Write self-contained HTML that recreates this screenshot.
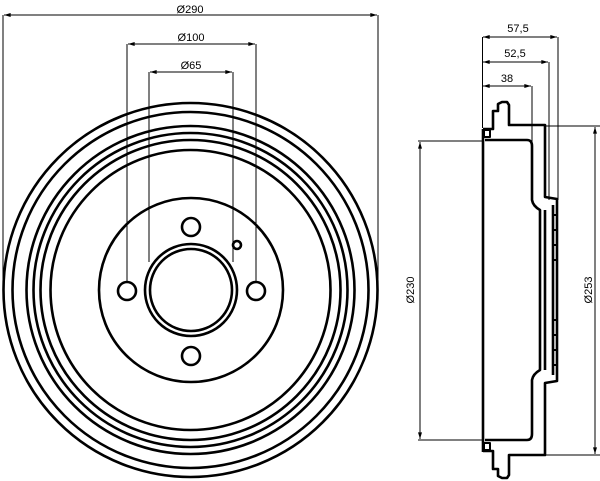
<!DOCTYPE html>
<html><head><meta charset="utf-8"><style>
html,body{margin:0;padding:0;background:#fff;}
svg{display:block;}
text{font-family:"Liberation Sans",sans-serif;font-size:11px;fill:#000;}
</style></head><body>
<svg width="600" height="481" viewBox="0 0 600 481" xmlns="http://www.w3.org/2000/svg">
<defs>
<marker id="a" viewBox="0 0 10 6" refX="10" refY="3" markerWidth="8" markerHeight="4" orient="auto-start-reverse" markerUnits="userSpaceOnUse"><path d="M0,0L10,3L0,6z" fill="#000"/></marker>
</defs>
<g fill="none" stroke="#000">
<!-- front view circles -->
<g stroke-width="2.6">
<circle cx="190.5" cy="290" r="187"/>
<circle cx="190.5" cy="290" r="178"/>
<circle cx="190.5" cy="290" r="164"/>
<circle cx="190.5" cy="290" r="157"/>
<circle cx="190.5" cy="290" r="150"/>
<circle cx="190.5" cy="290" r="140"/>
<circle cx="191" cy="290" r="92"/>
<circle cx="191" cy="290" r="46"/>
<circle cx="191" cy="290" r="41"/>
<circle cx="127" cy="291" r="9"/>
<circle cx="256" cy="291" r="9"/>
<circle cx="191" cy="227" r="9"/>
<circle cx="191" cy="356" r="9"/>
<circle cx="237" cy="245" r="4"/>
</g>
<!-- front dims -->
<g stroke-width="1">
<line x1="3" y1="15" x2="3" y2="280"/>
<line x1="378" y1="15" x2="378" y2="280"/>
<line x1="4" y1="15" x2="377" y2="15" marker-start="url(#a)" marker-end="url(#a)"/>
<line x1="127" y1="44" x2="127" y2="282"/>
<line x1="256" y1="44" x2="256" y2="282"/>
<line x1="128" y1="44" x2="255" y2="44" marker-start="url(#a)" marker-end="url(#a)"/>
<line x1="149" y1="72" x2="149" y2="262"/>
<line x1="233" y1="72" x2="233" y2="262"/>
<line x1="150" y1="72" x2="232" y2="72" marker-start="url(#a)" marker-end="url(#a)"/>
</g>
<!-- side view dims -->
<g stroke-width="1">
<line x1="482.5" y1="37" x2="482.5" y2="128"/>
<line x1="558" y1="37" x2="558" y2="200"/>
<line x1="549" y1="62" x2="549" y2="200"/>
<line x1="532" y1="86" x2="532" y2="142"/>
<line x1="483" y1="37" x2="557" y2="37" marker-start="url(#a)" marker-end="url(#a)"/>
<line x1="483" y1="62" x2="548" y2="62" marker-start="url(#a)" marker-end="url(#a)"/>
<line x1="483" y1="86" x2="531" y2="86" marker-start="url(#a)" marker-end="url(#a)"/>
<line x1="418" y1="141" x2="484" y2="141"/>
<line x1="418" y1="440" x2="484" y2="440"/>
<line x1="420" y1="142" x2="420" y2="439" marker-start="url(#a)" marker-end="url(#a)"/>
<line x1="545" y1="126" x2="600" y2="126"/>
<line x1="545" y1="455" x2="600" y2="455"/>
<line x1="595" y1="127" x2="595" y2="454" marker-start="url(#a)" marker-end="url(#a)"/>
</g>
<!-- side profile -->
<g stroke-width="2.6" stroke-linejoin="round">
<line x1="483" y1="129" x2="483" y2="452"/>
<g id="half">
<path d="M483,129 L493,129 L493,111 L498,111 L498,104 L502,102 L507,102 L509,105 L509,125 L545,125 L545,197 L557,199 L557,290"/>
<rect x="484" y="130" width="6" height="7" stroke-width="2"/>
<path d="M485,140 L527,140 Q532,140 532,146 L532,200 Q533,206 540,210 L540,290"/>
<path d="M545,210 L545,290"/>
<path d="M553,205 L553,290"/>
<path d="M553,215 h4 M553,230 h4 M553,245 h4 M553,260 h4" stroke-width="2"/>
</g>
<use href="#half" transform="translate(0,580) scale(1,-1)"/>
</g>
</g>
<text x="190" y="13" text-anchor="middle">Ø290</text>
<text x="191" y="41" text-anchor="middle">Ø100</text>
<text x="191" y="69" text-anchor="middle">Ø65</text>
<text x="518" y="32" text-anchor="middle">57,5</text>
<text x="515" y="57" text-anchor="middle">52,5</text>
<text x="507" y="82" text-anchor="middle">38</text>
<text transform="translate(414,290) rotate(-90)" text-anchor="middle">Ø230</text>
<text transform="translate(592,290) rotate(-90)" text-anchor="middle">Ø253</text>
</svg>
</body></html>
